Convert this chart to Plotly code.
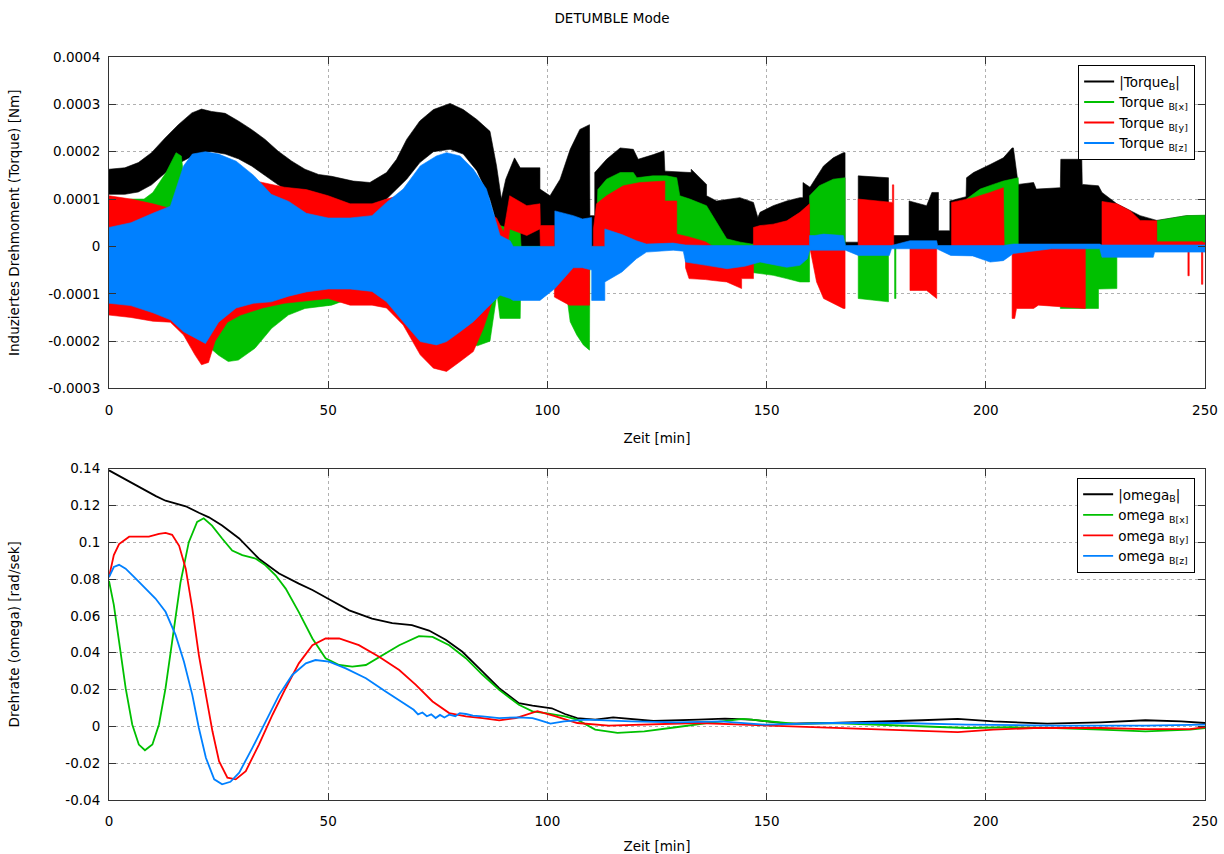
import numpy as np
import plotly.graph_objects as go
from plotly.subplots import make_subplots

# ---------------- Torque envelopes (units of 1e-4 Nm) ----------------
# |Torque_B|
tq_t = [0, 3.6, 6.7, 9.7, 12.8, 15.8, 18.9, 21.1, 23.4, 26.5, 29.5, 32.5, 35.6, 38.6, 41.7, 44.7,
        47.8, 50.8, 55.7, 59.5, 63.3, 65.6, 67.9, 70.9, 74.0, 77.8, 80.8, 83.9, 86.9, 88.4, 89.5,
        90.5, 92.5, 93.8, 98.3, 98.3, 100.6, 102.9, 105.2, 107.4, 109.6, 109.7, 110.8, 110.8, 113.5,
        116.6, 119.6, 120.7, 124.2, 126.6, 126.8, 132.8, 132.8, 136.3, 136.3, 138.6, 143.9, 147.0,
        148.0, 148.5, 151.5, 154.6, 157.6, 158.3, 158.3, 159.9, 163.0, 165.2, 167.5, 167.9, 167.9,
        170.9, 170.9, 177.4, 177.8, 177.8, 182.5, 182.5, 186.5, 187.7, 189.2, 189.2, 191.8, 191.8,
        195.5, 195.6, 197.2, 201.0, 204.0, 206.0, 206.3, 207.4, 210.9, 211.5, 217.0, 217.1, 221.9,
        222.0, 225.7, 226.5, 229.9, 235.2, 238.2, 239.0, 245.8, 250.0]
tq_hi = [1.63, 1.66, 1.77, 1.98, 2.29, 2.57, 2.82, 2.90, 2.85, 2.81, 2.65, 2.47, 2.26, 2.01, 1.80, 1.63,
         1.52, 1.48, 1.38, 1.35, 1.56, 1.84, 2.26, 2.65, 2.89, 3.02, 2.89, 2.68, 2.43, 1.70, 1.00,
         1.42, 1.87, 1.66, 1.66, 1.21, 1.07, 1.42, 2.05, 2.47, 2.57, 0.65, 0.65, 1.56, 1.84,
         2.08, 2.05, 1.84, 1.94, 2.02, 1.59, 1.56, 1.63, 1.31, 1.07, 0.96, 1.03, 0.93,
         0.61, 0.72, 0.86, 0.96, 1.03, 1.03, 1.35, 1.25, 1.70, 1.87, 1.98, 1.98, 0.09,
         0.09, 1.49, 1.45, 1.45, 0.23, 0.23, 0.96, 0.86, 1.14, 1.14, 0.33, 0.33, 0.96,
         1.05, 1.45, 1.56, 1.73, 1.87, 2.08, 2.08, 1.31, 1.35, 1.21, 1.24, 1.84, 1.84,
         1.31, 1.28, 1.14, 0.90, 0.65, 0.58, 0.55, 0.65, 0.65]
tq_lo = [1.10, 1.10, 1.15, 1.30, 1.55, 1.75, 1.90, 1.98, 2.00, 1.95, 1.85, 1.70, 1.50, 1.30, 1.10, 0.95,
         0.80, 0.75, 0.75, 0.85, 1.00, 1.20, 1.42, 1.77, 2.00, 2.05, 1.95, 1.60, 1.00, 0.50, 0.30,
         0, 0, 0, 0, 0, 0, 0, 0, 0, 0, 0, 0, 0, 0,
         0, 0, 0, 0, 0, 0, 0, 0, 0, 0, 0, 0, 0,
         0, 0, 0, 0, 0, 0, 0, 0, 0, 0, 0, 0, 0,
         0, 0, 0, 0, 0, 0, 0, 0, 0, 0, 0, 0, 0,
         0, 0, 0, 0, 0, 0, 0, 0, 0, 0, 0, 0, 0,
         0, 0, 0, 0, 0, 0, 0, 0, 0]

# Torque_B[x]
tx_t = [0, 5, 8, 10, 13, 15.3, 16.5, 17, 20, 25, 27.2, 29.5, 33.3, 37.1, 40.9, 44.7, 50.8, 55, 60,
        65, 70, 75, 80, 84, 86.9, 88.5, 89.2, 93.8, 94.0, 101.5, 103.5, 104.4, 105.2, 106.7, 108.2,
        109.6, 109.7, 111.0, 111.5, 113.5, 116.6, 119.6, 120.4, 124.0, 127.2, 129.5, 130.2, 132.5,
        136.3, 138.6, 140.9, 144.0, 146.6, 146.6, 151.5, 154.6, 157.6, 159.8, 159.8, 162.0, 165.2,
        167.9, 167.9, 170.9, 170.9, 177.8, 177.8, 179.2, 179.2, 179.5, 179.5, 195.6, 195.6, 198.7,
        201.7, 204.0, 207.4, 207.4, 217.0, 217.0, 222.7, 225.7, 225.7, 229.9, 229.9, 239.0, 239.0,
        245.8, 250.0]
tx_hi = [0.9, 1.0, 1.0, 1.14, 1.56, 1.98, 1.91, 1.5, 1.6, 1.5, 1.4, 1.3, 1.2, 1.1, 1.0, 0.95, 0.9, 0.8, 0.8,
         0.9, 1.0, 1.2, 1.2, 1.0, 0.7, 0.5, 0.44, 0.3, 0, 0, 0, 0, 0, 0, 0,
         0, 0, 0, 1.2, 1.42, 1.56, 1.56, 1.45, 1.49, 1.49, 1.45, 1.07, 1.0,
         0.86, 0.51, 0.16, 0.09, 0.05, 0.05, 0.05, 0.05, 0.05, 0.05, 1.07, 1.28, 1.42,
         1.45, 0, 0, 0, 0, 0, 0, 0, 0, 0, 0, 1.0, 1.21,
         1.31, 1.38, 1.45, 0, 0, 0, 0, 0, 0, 0, 0, 0, 0.54,
         0.65, 0.66]
tx_lo = [-1.25, -1.3, -1.35, -1.4, -1.5, -1.6, -1.7, -1.8, -1.9, -2.3, -2.43, -2.4, -2.15, -1.73, -1.45, -1.31, -1.24, -1.1, -1.1,
         -1.2, -1.5, -1.9, -2.0, -2.1, -2.0, -1.0, -1.52, -1.52, -0.3, -0.3, -1.03, -1.03, -1.59, -1.87, -2.08,
         -2.19, 0, 0, 0, 0, 0, 0, 0, 0, 0, 0, 0, 0,
         0, 0, 0, 0, 0, -0.55, -0.61, -0.68, -0.75, -0.75, 0, 0, 0,
         0, 0, 0, -1.1, -1.17, 0, 0, -1.1, -1.1, 0, 0, 0, 0,
         0, 0, 0, 0, 0, -1.31, -1.31, -1.31, -0.9, -0.89, 0, 0, 0,
         0, 0]

# Torque_B[y]
ty_t = [0, 5, 10, 14, 17, 19.6, 21.1, 22.7, 24.2, 27, 30, 35, 40, 45, 50, 55, 60, 63.3, 67.1, 71, 74,
        77, 80.1, 83.1, 85.4, 88.4, 90, 91.4, 95.3, 98.3, 98.4, 101.6, 101.6, 105.0, 109.6, 109.6,
        110.5, 110.5, 111.2, 113.5, 117.3, 121.1, 124.9, 126.8, 126.8, 129.5, 129.5, 131.5, 131.5,
        132.3, 136.0, 137.8, 140.9, 144.3, 144.3, 147.0, 147.0, 148.5, 151.5, 154.6, 157.6, 159.8,
        159.8, 161.4, 163.0, 167.5, 167.9, 167.9, 170.9, 170.9, 178.5, 178.5, 178.7, 178.7, 179.0,
        179.0, 182.7, 182.7, 186.5, 188.8, 188.8, 192.2, 192.2, 197.2, 201.0, 204.0, 204.2, 206.0,
        206.0, 206.6, 207.0, 210.9, 212.0, 217.0, 222.7, 222.7, 226.5, 226.5, 229.9, 233.0, 235.2,
        239.0, 239.0, 246.1, 246.1, 246.4, 246.4, 249.2, 249.2, 249.5, 249.5, 250.0]
ty_hi = [1.07, 1.0, 0.9, 0.8, 0.9, 1.0, 1.2, 1.3, 1.4, 1.5, 1.45, 1.35, 1.25, 1.2, 1.07, 0.9, 0.9, 1.0, 1.1, 1.2, 1.3,
         1.3, 1.2, 1.0, 0.8, 0.6, 0.3, 1.07, 0.86, 0.90, 0.44, 0.44, 0, 0, 0, 0,
         0, 0.37, 0.9, 1.07, 1.28, 1.35, 1.38, 1.38, 0.96, 0.96, 0.26, 0.22, 0.22,
         0.2, 0.1, 0, 0, 0, 0, 0, 0.40, 0.44, 0.47, 0.54, 0.72, 0.9,
         0, 0, 0, 0, 0, 0, 0, 1.0, 0.93, 0.93, 0.93, 1.3, 1.3,
         0, 0, 0, 0, 0, 0, 0, 0.93, 1.03, 1.14, 1.24, 0, 0,
         0, 0, 0, 0, 0, 0, 0, 0, 0, 0.95, 0.9, 0.75, 0.55,
         0.54, 0.1, 0.1, 0.1, 0.1, 0.1, 0.1, 0.1, 0.1, 0.08, 0.08]
ty_lo = [-1.45, -1.5, -1.58, -1.6, -1.87, -2.29, -2.5, -2.45, -2.0, -1.6, -1.45, -1.3, -1.2, -1.15, -1.1, -1.24, -1.24, -1.3, -1.66, -2.29, -2.57,
         -2.64, -2.43, -2.22, -1.73, -0.9, -0.8, 0.37, 0.23, 0.37, 0, 0, -1.07, -1.24, -1.24, 0,
         0, 0, 0, 0, 0, 0, 0, 0, 0, 0, 0, 0, -0.45,
         -0.68, -0.7, -0.72, -0.75, -0.89, -0.68, -0.68, 0, 0, 0, 0, 0, 0,
         0, -0.75, -1.1, -1.31, -1.31, 0, 0, 0, 0, 0, 0, 0, 0,
         0, 0, -0.93, -0.93, -1.1, 0, 0, 0, 0, 0, 0, 0, 0,
         -1.52, -1.52, -1.31, -1.31, -1.24, -1.28, -1.31, 0, 0, 0, 0, 0, 0,
         0, 0, 0, -0.62, -0.62, 0, 0, -0.8, -0.8, 0, 0]

# Torque_B[z]
tz_t = [0, 5, 10, 14, 17, 19, 22, 25, 29, 33, 37, 41, 45, 50, 55, 60, 63.3, 67.1, 71, 74.7, 77, 80.1,
        83.1, 86.1, 89.2, 91.5, 92.2, 98.3, 101.7, 101.7, 105.9, 108.0, 110.1, 110.1, 113.1, 113.1,
        117.0, 120.3, 122.6, 128.7, 131.0, 131.5, 136.3, 141.0, 145.0, 148.5, 151.5, 154.6, 157.6,
        159.3, 159.8, 159.8, 161.0, 163.0, 167.5, 168.0, 170.9, 178.0, 178.5, 182.7, 188.8, 189.0,
        192.0, 197.0, 201.0, 204.0, 206.3, 215.0, 226.0, 226.5, 238.2, 238.5, 250.0]
tz_hi = [0.4, 0.5, 0.7, 0.85, 1.7, 1.95, 2.0, 1.95, 1.8, 1.5, 1.1, 0.95, 0.7, 0.6, 0.6, 0.65, 0.93, 1.21, 1.7, 1.91, 1.98, 1.91,
         1.63, 1.21, 0.23, 0.12, 0, 0, 0, 0.75, 0.65, 0.58, 0.61, 0, 0, 0.37,
         0.25, 0.12, 0.05, 0.07, 0.03, 0.03, 0.02, 0.02, 0.02, 0.02, 0.02, 0.02, 0.02,
         0.02, 0.02, 0.23, 0.23, 0.26, 0.23, 0.02, 0.02, 0.02, 0.02, 0.12, 0.12, 0.02,
         0.02, 0.02, 0.02, 0.02, 0.05, 0.05, 0.05, 0.03, 0.03, 0.03, 0.03]
tz_lo = [-1.2, -1.25, -1.4, -1.55, -1.8, -1.9, -2.05, -1.6, -1.3, -1.2, -1.17, -1.05, -0.96, -0.9, -0.9, -0.95, -1.17, -1.59, -2.01, -2.08, -2.01, -1.8,
         -1.59, -1.31, -1.03, -1.1, -1.14, -1.14, -0.89, -0.89, -0.45, -0.45, -0.5, -1.14, -1.14, -0.75,
         -0.54, -0.26, -0.12, -0.08, -0.1, -0.33, -0.4, -0.47, -0.42, -0.33, -0.38, -0.44, -0.40,
         -0.26, -0.08, -0.08, -0.08, -0.08, -0.08, -0.08, -0.19, -0.19, -0.05, -0.05, -0.05, -0.05,
         -0.19, -0.2, -0.33, -0.3, -0.15, -0.05, -0.05, -0.23, -0.23, -0.12, -0.12]

# ---------------- Angular rate (rad/s) ----------------
w_t = [0, 5.3, 10.7, 12.9, 17.5, 20.5, 22.8, 25.8, 29.7, 34.2, 38.8, 43.3, 46.4, 50.2, 54.8, 60, 64.6,
       69.1, 73, 76.8, 80.6, 85.2, 89, 93.5, 96.6, 101, 104, 106.8, 110.9, 115, 120.1, 124.2, 134.4,
       140.5, 146.6, 154.8, 165, 175.2, 185.4, 193.6, 201.7, 214, 226.2, 236.4, 244.6, 250]
w_abs = [.139, .132, .125, .1225, .1195, .116, .1135, .109, .102, .091, .083, .0775, .074, .069, .063, .0585, .056,
         .055, .052, .047, .0405, .0297, .0207, .0126, .0112, .0098, .0067, .0045, .0036, .0049, .004, .0029, .0036,
         .0042, .0036, .0015, .0018, .0024, .0033, .004, .0027, .0015, .0022, .0033, .0027, .0018]

wx_t = [0, 1.1, 2.3, 3.8, 5.3, 6.8, 8.2, 9.9, 11.4, 12.9, 14.4, 16.3, 18.2, 20.1, 21.6, 23.5, 25.8, 28.1,
        30.4, 33.5, 35.7, 38, 40.3, 43.3, 46.4, 49.4, 52.5, 55.5, 58.6, 62.4, 66.2, 70.7, 73.8, 77.6,
        81.4, 85.2, 89, 93.5, 96.6, 99.6, 101.7, 104, 106.8, 110.9, 116, 122.1, 129.3, 136.4, 144.6,
        150.7, 156.8, 165, 175.2, 185.4, 195.6, 205.8, 216, 226.2, 236.4, 246.6, 250]
wx = [.079, .066, .046, .0207, .001, -.0099, -.013, -.0099, .001, .0207, .046, .078, .1, .111, .113, .109, .102, .0955,
      .093, .091, .0874, .082, .0748, .062, .0477, .037, .0333, .0324, .0333, .0387, .044, .049, .0486, .044,
      .037, .028, .0198, .0117, .0081, .0072, .0064, .0054, .0036, -.0018, -.0036, -.0027, -.0005, .0018, .004,
      .0027, .0013, .0018, .0009, -.0004, -.0009, -.0005, -.0009, -.0018, -.0027, -.0018, -.0009]

wy_t = [0, 1.1, 2.3, 4.6, 9.1, 11.4, 12.9, 14.4, 16, 17.5, 19, 20.5, 22.1, 23.6, 25.1, 27, 28.9, 31.2,
        34.2, 37.3, 40.3, 43.3, 46.4, 49.4, 52.5, 57, 61.6, 66.2, 70, 73.8, 77.6, 81.4, 85.2, 89,
        92.8, 95.5, 97.7, 101.7, 106.8, 114, 124.2, 134.4, 144.6, 154.8, 165, 175.2, 185.4, 193.6,
        201.7, 211, 226.2, 236.4, 246.6, 250]
wy = [.081, .093, .099, .103, .103, .1045, .105, .104, .098, .0856, .064, .0387, .0171, -.0027, -.0189, -.0279, -.0288, -.0243,
      -.0099, .0063, .0207, .0342, .0441, .0477, .0477, .0441, .0378, .0306, .0225, .0135, .0072, .0054, .0045, .0032,
      .0045, .0065, .0082, .0055, .0018, .0004, .0009, .0018, .0009, 0, -.0009, -.0018, -.0027, -.0031,
      -.0018, -.0009, -.0009, -.0015, -.0015, -.0004]

wz_t = [0, 1.1, 2.3, 3.8, 6.1, 8.4, 10.6, 12.9, 15.2, 17.1, 19, 20.5, 22.1, 24, 25.8, 27.7, 29.7, 32.7,
        35.7, 38.8, 41.8, 44.9, 47.1, 50.2, 54, 58.6, 63.1, 67.7, 69.5, 70.5, 71.5, 72.5, 73.5, 74.5,
        75.5, 76.5, 77.6, 79, 80, 81.4, 83, 85.2, 89, 93.5, 96.6, 98, 100.7, 103.8, 108.9, 119.1,
        129.3, 139.5, 149.7, 165, 180.3, 195.6, 216, 236.4, 250]
wz = [.081, .0865, .0877, .0856, .0802, .0748, .0694, .0622, .0495, .0351, .0171, -.0009, -.0171, -.0288, -.0315, -.0301, -.0252, -.0117,
      .0027, .0171, .0279, .0342, .036, .0351, .0315, .0261, .0189, .0117, .009, .0065, .0075, .0055, .0065, .0045,
      .0062, .0048, .0063, .0055, .0072, .0067, .0058, .0054, .0045, .0049, .0045, .0035, .0015, .0027, .0036, .0027,
      .0022, .0027, .0009, .0018, .0018, .0009, .0004, .0004, .0009]

x_ticks = [0, 50, 100, 150, 200, 250]
y1_ticks = [0.0004, 0.0003, 0.0002, 0.0001, 0, -0.0001, -0.0002, -0.0003]
y1_text = ["0.0004", "0.0003", "0.0002", "0.0001", "0", "-0.0001", "-0.0002", "-0.0003"]
y2_ticks = [0.14, 0.12, 0.1, 0.08, 0.06, 0.04, 0.02, 0, -0.02, -0.04]
y2_text = ["0.14", "0.12", "0.1", "0.08", "0.06", "0.04", "0.02", "0", "-0.02", "-0.04"]

BLACK, GREEN, RED, BLUE = "#000000", "#00c000", "#ff0000", "#0080ff"
FONT = "DejaVu Sans"
FS = 13.5
SCALE = 1e-4

fig = make_subplots(rows=2, cols=1, vertical_spacing=0.1077)


def band(t, hi, lo, color):
    xs = list(t) + list(t)[::-1]
    ys = list(np.array(hi) * SCALE) + list(np.array(lo)[::-1] * SCALE)
    return go.Scatter(x=xs, y=ys, mode="lines", fill="toself", fillcolor=color,
                      line=dict(color=color, width=0.6), showlegend=False, hoverinfo="skip")


for t, hi, lo, c in [(tq_t, tq_hi, tq_lo, BLACK), (tx_t, tx_hi, tx_lo, GREEN),
                     (ty_t, ty_hi, ty_lo, RED), (tz_t, tz_hi, tz_lo, BLUE)]:
    fig.add_trace(band(t, hi, lo, c), row=1, col=1)

for name, c in [("|Torque<sub>B</sub>|", BLACK), ("Torque <sub>B[x]</sub>", GREEN),
                ("Torque <sub>B[y]</sub>", RED), ("Torque <sub>B[z]</sub>", BLUE)]:
    fig.add_trace(go.Scatter(x=[None], y=[None], mode="lines", name=name,
                             line=dict(color=c, width=2), legend="legend"), row=1, col=1)

for t, v, name, c in [(w_t, w_abs, "|omega<sub>B</sub>|", BLACK), (wx_t, wx, "omega <sub>B[x]</sub>", GREEN),
                      (wy_t, wy, "omega <sub>B[y]</sub>", RED), (wz_t, wz, "omega <sub>B[z]</sub>", BLUE)]:
    fig.add_trace(go.Scatter(x=t, y=v, mode="lines", name=name, line=dict(color=c, width=1.8),
                             legend="legend2"), row=2, col=1)

axis_common = dict(showline=True, linecolor="#333333", linewidth=1, mirror="ticks", ticks="inside",
                   ticklen=7, tickcolor="#333333", showgrid=True, gridcolor="#b0b0b0", griddash="dot",
                   gridwidth=1, zeroline=False, automargin=False,
                   tickfont=dict(family=FONT, size=FS, color="#000"))
title_font = dict(family=FONT, size=FS, color="#000")

fig.update_xaxes(range=[0, 250], tickvals=x_ticks, ticklabelstandoff=9, **axis_common)
fig.update_xaxes(title=dict(text="Zeit [min]", font=title_font, standoff=16), row=1, col=1)
fig.update_xaxes(title=dict(text="Zeit [min]", font=title_font, standoff=15), row=2, col=1)
fig.update_yaxes(range=[-0.0003, 0.0004], tickvals=y1_ticks, ticktext=y1_text, row=1, col=1,
                 ticklabelstandoff=5,
                 title=dict(text="Induziertes Drehmoment (Torque) [Nm]", font=title_font, standoff=25),
                 **axis_common)
fig.update_yaxes(range=[-0.04, 0.14], tickvals=y2_ticks, ticktext=y2_text, row=2, col=1,
                 ticklabelstandoff=5,
                 title=dict(text="Drehrate (omega) [rad/sek]", font=title_font, standoff=42),
                 **axis_common)

fig.update_layout(
    width=1224, height=854, autosize=False,
    margin=dict(l=109, r=19, t=57, b=54, autoexpand=False),
    paper_bgcolor="white", plot_bgcolor="white",
    font=dict(family=FONT, size=FS, color="#000"),
    title=dict(text="DETUMBLE Mode", x=0.5, xref="container", xanchor="center",
               y=1 - 18 / 854, yref="container", yanchor="middle",
               font=dict(family=FONT, size=FS, color="#000")),
    legend=dict(x=0.991, y=0.989, xanchor="right", yanchor="top", bgcolor="white",
                bordercolor="#000", borderwidth=1, font=dict(family=FONT, size=FS), tracegroupgap=0),
    legend2=dict(x=0.991, y=0.4334, xanchor="right", yanchor="top", bgcolor="white",
                 bordercolor="#000", borderwidth=1, font=dict(family=FONT, size=FS), tracegroupgap=0),
)

fig.write_html("out.html", config={"responsive": False, "displayModeBar": False},
               post_script="document.body.style.margin='0px';document.body.style.overflow='hidden';")
